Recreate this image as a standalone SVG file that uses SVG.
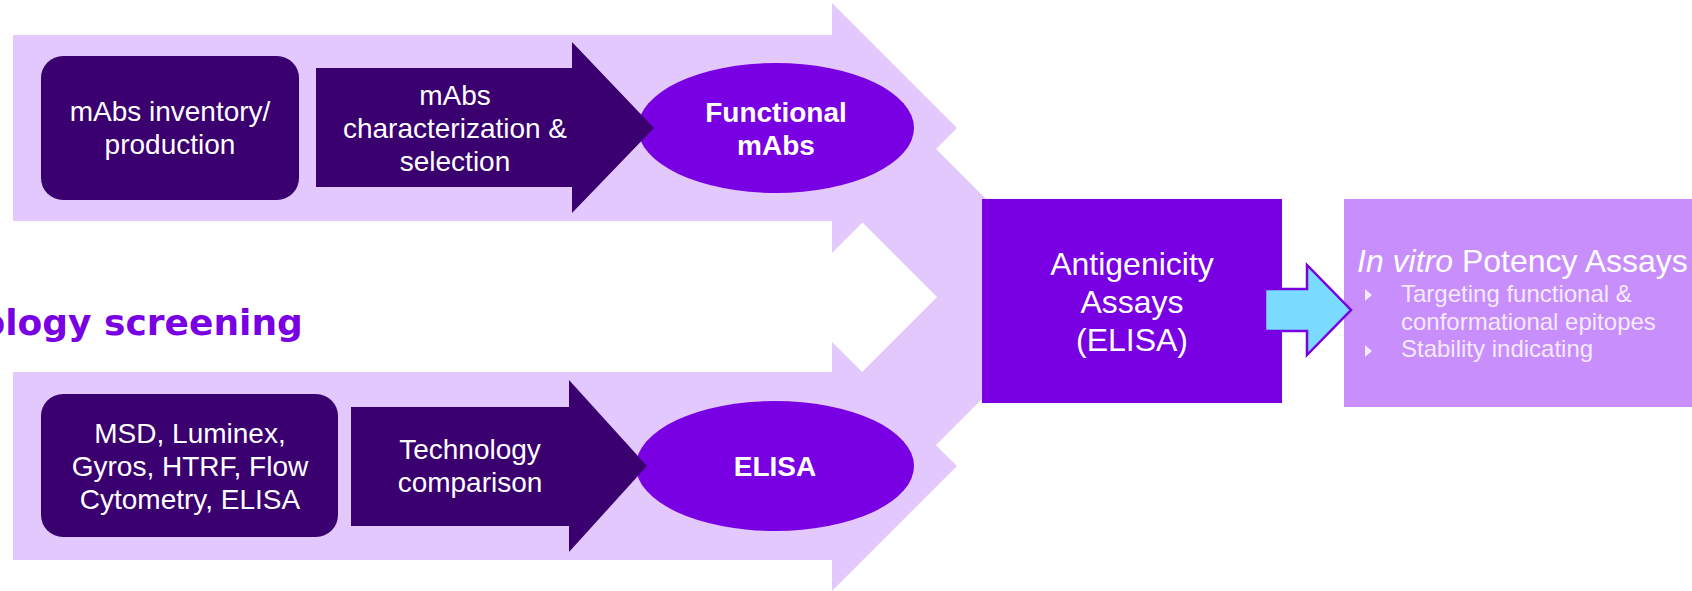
<svg xmlns="http://www.w3.org/2000/svg" width="1692" height="591" viewBox="0 0 1692 591">
<style>
.lav{fill:#E2C8FC}
.dark{fill:#3A006F}
.vivid{fill:#7800E3}
.t{font-family:"Liberation Sans",Arial,sans-serif;fill:#FFFFFF;text-anchor:middle}
.t28{font-size:28px}
.b28{font-size:28px;font-weight:bold}
.t32{font-size:32px}
.bul{font-family:"Liberation Sans",Arial,sans-serif;font-size:24px;fill:#F4EAFF}
.tri{fill:#F4EAFF}
</style>
<rect width="1692" height="591" fill="#FFFFFF"/>
<g id="connectors">
<polygon class="lav" points="768,128 915,128 1084,297 915,466 768,466 937,297"/>
<polygon class="lav" points="13,35 832,35 832,3 957,128 832,253 832,221 13,221"/>
<polygon class="lav" points="13,372 832,372 832,342 957,466 832,591 832,560 13,560"/>
</g>
<g id="title">
<text x="-19.5" y="335" style="font-family:'DejaVu Sans',Verdana,sans-serif;font-size:36px;font-weight:bold;fill:#7800E3">ology screening</text>
</g>
<g id="node-inventory">
<rect class="dark" x="41" y="56" width="258" height="144" rx="22" ry="22"/>
<text class="t t28" x="170" y="121">mAbs inventory/</text>
<text class="t t28" x="170" y="154">production</text>
</g>
<g id="node-functional">
<ellipse class="vivid" cx="776" cy="128" rx="138" ry="65"/>
<text class="t b28" x="776" y="122">Functional</text>
<text class="t b28" x="776" y="155">mAbs</text>
</g>
<g id="node-characterization">
<polygon class="dark" points="316,68 572,68 572,42 654,128 572,213 572,187 316,187"/>
<text class="t t28" x="455" y="105">mAbs</text>
<text class="t t28" x="455" y="138">characterization &amp;</text>
<text class="t t28" x="455" y="171">selection</text>
</g>
<g id="node-technologies">
<rect class="dark" x="41" y="394" width="297" height="143" rx="22" ry="22"/>
<text class="t t28" x="190" y="443">MSD, Luminex,</text>
<text class="t t28" x="190" y="476">Gyros, HTRF, Flow</text>
<text class="t t28" x="190" y="509">Cytometry, ELISA</text>
</g>
<g id="node-elisa">
<ellipse class="vivid" cx="775" cy="466" rx="139" ry="65"/>
<text class="t b28" x="775" y="476">ELISA</text>
</g>
<g id="node-comparison">
<polygon class="dark" points="351,407 569,407 569,380 647,466 569,552 569,526 351,526"/>
<text class="t t28" x="470" y="459">Technology</text>
<text class="t t28" x="470" y="492">comparison</text>
</g>
<g id="node-antigenicity">
<rect class="vivid" x="982" y="199" width="300" height="204"/>
<text class="t t32" x="1132" y="275">Antigenicity</text>
<text class="t t32" x="1132" y="313">Assays</text>
<text class="t t32" x="1132" y="351">(ELISA)</text>
</g>
<g id="node-potency">
<rect x="1344" y="199" width="360" height="208" fill="#C88EFC"/>
<text x="1357" y="272" style="font-family:'Liberation Sans',Arial,sans-serif;font-size:32px;fill:#FFFFFF"><tspan font-style="italic">In vitro</tspan> Potency Assays</text>
<polygon class="tri" points="1365,289 1372,295 1365,301"/>
<text class="bul" x="1401" y="302">Targeting functional &amp;</text>
<text class="bul" x="1401" y="330">conformational epitopes</text>
<polygon class="tri" points="1365,345 1372,351 1365,357"/>
<text class="bul" x="1401" y="357">Stability indicating</text>
</g>
<g id="arrow-cyan">
<polygon points="1265,289 1307,289 1307,265 1351,310 1307,355 1307,331 1265,331" fill="#7ADAFF" stroke="#7800E3" stroke-width="2.5" stroke-linejoin="miter"/>
</g>
</svg>
